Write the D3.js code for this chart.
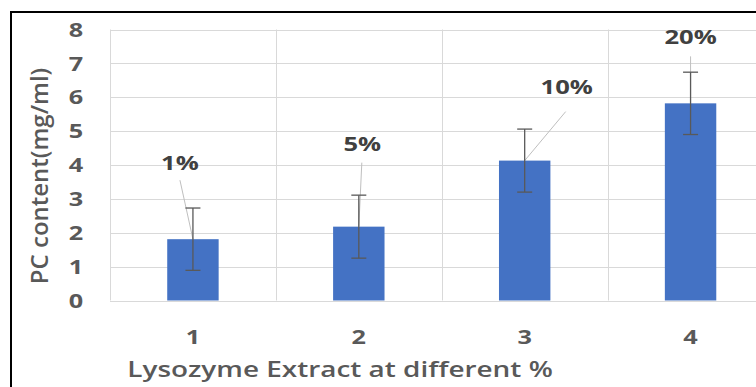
<!DOCTYPE html>
<html><head><meta charset="utf-8">
<script src="https://cdn.jsdelivr.net/npm/d3@7"></script>
<style>body{margin:0;background:#fff}svg{display:block}</style>
</head><body>
<script>
const categories = ["1","2","3","4"];
const values = [1.81, 2.18, 4.13, 5.82];
const errors = [0.92, 0.93, 0.93, 0.92];
const labels = ["1%","5%","10%","20%"];
const yTicks = [0,1,2,3,4,5,6,7,8];
// label offsets from bar top (pixels) – layout only
const labelOffsets = [[-13,-77],[3.5,-83],[42,-74],[0,-67]];
const leaderStart = [[-13,-59],[3,-64],[41,-49],[0,-47]];

const W=756,H=387;
const svg=d3.select("body").append("svg").attr("width",W).attr("height",H);
svg.append("rect").attr("width",W).attr("height",H).attr("fill","#fff");
// frame
svg.append("path").attr("d",`M11,${H+5} L11,12 L${W+5},12`).attr("fill","none").attr("stroke","#000").attr("stroke-width",2);

const x=d3.scaleBand().domain(categories).range([110,773.5]).padding(0);
const y=d3.scaleLinear().domain([0,8]).range([300.5,29.5]);
const font="'Open Sans', 'Segoe UI', sans-serif";
const SX=1.33; // horizontal stretch of text in the reference

function txt(g, px, py, s, size, weight, fill, sx, rot){
  return g.append("text")
    .attr("transform",`translate(${px},${py})`+(rot?` rotate(${rot})`:"")+` scale(${sx},1)`)
    .attr("text-anchor","middle").attr("dominant-baseline","central")
    .attr("font-family",font).attr("font-weight",weight).attr("font-size",size).attr("fill",fill)
    .text(s);
}

// horizontal grid
svg.append("g").selectAll("line").data(yTicks).join("line")
 .attr("x1",110).attr("x2",W+20).attr("y1",d=>Math.round(y(d))+0.5).attr("y2",d=>Math.round(y(d))+0.5)
 .attr("stroke","#d9d9d9").attr("stroke-width",1);
// vertical grid
svg.append("g").selectAll("line").data(categories).join("line")
 .attr("x1",d=>Math.round(x(d))+0.5).attr("x2",d=>Math.round(x(d))+0.5)
 .attr("y1",y(8)).attr("y2",y(0)).attr("stroke","#d9d9d9").attr("stroke-width",1);

const bw=x.bandwidth()*0.31;
const cx=d=>x(d)+x.bandwidth()/2;
svg.append("g").selectAll("rect").data(categories).join("rect")
 .attr("x",d=>cx(d)-bw/2).attr("width",bw)
 .attr("y",(d,i)=>y(values[i])).attr("height",(d,i)=>y(0)-y(values[i]))
 .attr("fill","#4472c4");

// leader lines
svg.append("g").selectAll("line").data(categories).join("line")
 .attr("x1",(d,i)=>cx(d)+leaderStart[i][0]).attr("y1",(d,i)=>y(values[i])+leaderStart[i][1])
 .attr("x2",d=>cx(d)).attr("y2",(d,i)=>y(values[i]))
 .attr("stroke","#bfbfbf").attr("stroke-width",1);

// error bars
const eg=svg.append("g").attr("stroke","#595959").attr("stroke-width",1.3);
categories.forEach((d,i)=>{
  const c=cx(d), t=y(values[i]+errors[i]), b=y(values[i]-errors[i]);
  eg.append("line").attr("x1",c).attr("x2",c).attr("y1",t).attr("y2",b);
  eg.append("line").attr("x1",c-7.5).attr("x2",c+7.5).attr("y1",t).attr("y2",t);
  eg.append("line").attr("x1",c-7.5).attr("x2",c+7.5).attr("y1",b).attr("y2",b);
});

// data labels
const lg=svg.append("g");
categories.forEach((d,i)=>{
  txt(lg, cx(d)+labelOffsets[i][0], y(values[i])+labelOffsets[i][1], labels[i], 20, "bold", "#404040", 1.28);
});

// y tick labels
const yg=svg.append("g");
yTicks.forEach(t=>txt(yg, 76, y(t), t, 19, "bold", "#595959", SX));
// x tick labels
const xg=svg.append("g");
categories.forEach(d=>txt(xg, cx(d), 337, d, 19, "bold", "#595959", SX));
// titles
txt(svg, 38, 176, "PC content(mg/ml)", 24, "600", "#595959", 1, -90);
txt(svg, 340, 369, "Lysozyme Extract at different %", 21, "600", "#595959", 1.33);
</script>
</body></html>
